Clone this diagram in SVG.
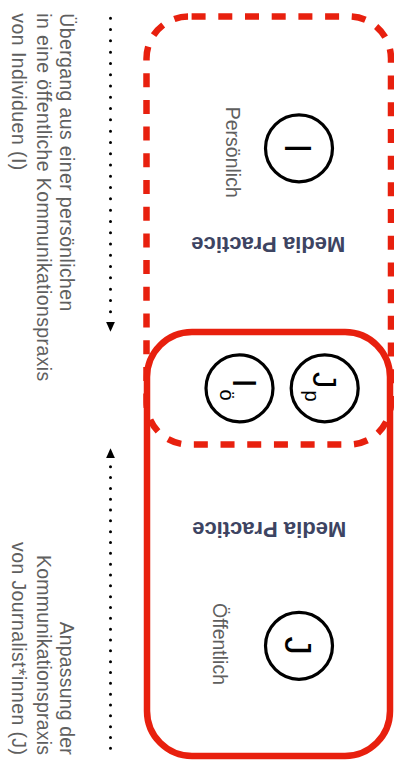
<svg xmlns="http://www.w3.org/2000/svg" width="394" height="760" viewBox="0 0 394 760">
<defs>
<marker id="ah" markerUnits="userSpaceOnUse" markerWidth="10" markerHeight="9" refX="0" refY="4.5" orient="auto"><path d="M0,0 L10,4.5 L0,9 Z" fill="#000"/></marker>
</defs>
<style>
.box{fill:none;stroke:#e8200e;stroke-width:6.5}
.dash{stroke-dasharray:14 12.7;stroke-dashoffset:23.6}
.circ{fill:none;stroke:#000;stroke-width:3.2}
.sym{font-family:"Liberation Sans",Arial,sans-serif;fill:#000}
.lbl{font-family:"Liberation Sans",Arial,sans-serif;font-size:19.5px;fill:#5f5f5f}
.mp{font-family:"Liberation Sans",Arial,sans-serif;font-size:22px;font-weight:bold;fill:#3d4462;text-anchor:middle}
.note{font-family:"Liberation Sans",Arial,sans-serif;font-size:19.5px;fill:#5f5f5f}
.dots{fill:none;stroke:#000;stroke-width:3;stroke-linecap:round}
</style>
<rect x="0" y="0" width="394" height="760" fill="#fff"/>
<g id="public">
<rect class="box" x="147" y="332" width="243" height="424" rx="45" ry="45"/>
<text class="mp" transform="translate(269.2,521.7) rotate(180)" textLength="154" lengthAdjust="spacing">Media Practice</text>
<text class="lbl" transform="translate(213.3,603) rotate(90)">Öffentlich</text>
</g>
<g id="personal">
<rect class="box dash" x="146.5" y="16.5" width="244.5" height="428" rx="42" ry="42"/>
<text class="mp" transform="translate(268.3,236.7) rotate(180)" textLength="154" lengthAdjust="spacing">Media Practice</text>
<text class="lbl" transform="translate(226,106.7) rotate(90)">Persönlich</text>
</g>
<g id="node-I">
<circle class="circ" cx="299" cy="148.3" r="33.5"/>
<text class="sym" font-size="37" text-anchor="middle" transform="translate(285,148.3) rotate(90)">I</text>
</g>
<g id="node-J">
<circle class="circ" cx="299" cy="645.8" r="33.5"/>
<text class="sym" font-size="37" text-anchor="middle" transform="translate(285,645.8) rotate(90)">J</text>
</g>
<g id="node-Io">
<circle class="circ" cx="239.5" cy="388.3" r="33.5"/>
<text class="sym" font-size="33" transform="translate(233,378.4) rotate(90)">I<tspan font-size="20" dx="2" dy="13">ö</tspan></text>
</g>
<g id="node-Jp">
<circle class="circ" cx="324.7" cy="388.3" r="33.5"/>
<text class="sym" font-size="33" transform="translate(313.3,372) rotate(90)">J<tspan font-size="20" dx="2" dy="8.3">p</tspan></text>
</g>
<g id="note-left">
<text class="note" transform="translate(60,13.3) rotate(90)" textLength="298" lengthAdjust="spacing">Übergang aus einer persönlichen</text>
<text class="note" transform="translate(36.7,13.3) rotate(90)" textLength="368" lengthAdjust="spacing">in eine öffentliche Kommunikationspraxis</text>
<text class="note" transform="translate(11.7,13.3) rotate(90)" textLength="157" lengthAdjust="spacing">von Individuen (I)</text>
</g>
<g id="note-right">
<text class="note" transform="translate(60,621.7) rotate(90)" textLength="133" lengthAdjust="spacing">Anpassung der</text>
<text class="note" transform="translate(36.7,555) rotate(90)" textLength="200" lengthAdjust="spacing">Kommunikationspraxis</text>
<text class="note" transform="translate(11.7,542) rotate(90)" textLength="213" lengthAdjust="spacing">von Journalist*innen (J)</text>
</g>
<g id="connectors">
<path class="dots" d="M110.5,18.3 L110.5,321.7" stroke-dasharray="0 11.285" marker-end="url(#ah)"/>
<path class="dots" d="M110.5,748.3 L110.5,458.3" stroke-dasharray="0 10.83" marker-end="url(#ah)"/>
</g>
</svg>
